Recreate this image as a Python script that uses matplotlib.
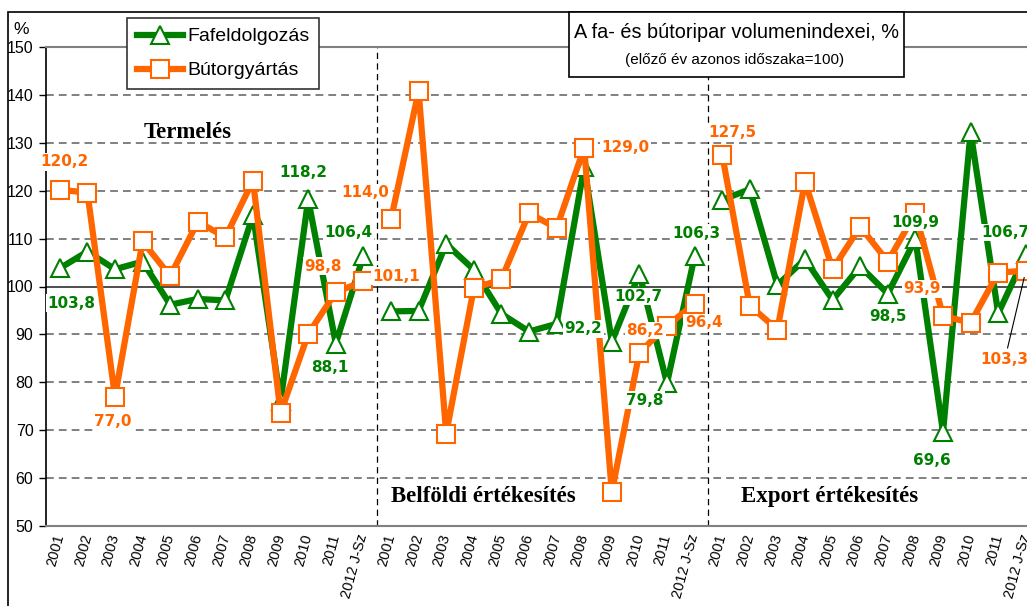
import matplotlib.pyplot as plt
from matplotlib.lines import Line2D
from matplotlib.patches import Rectangle

plt.rcParams['font.family'] = ['Liberation Sans', 'DejaVu Sans']

YEARS = ['2001', '2002', '2003', '2004', '2005', '2006', '2007', '2008',
         '2009', '2010', '2011', '2012 J-Sz']
PANELS = ['Termelés', 'Belföldi értékesítés', 'Export értékesítés']
SERIES = ['Fafeldolgozás', 'Bútorgyártás']

# Fafeldolgozás (green) per panel
FA_TERMELES = [103.8, 107.3, 103.6, 105.2, 96.2, 97.4, 97.1, 114.9, 76.0, 118.2, 88.1, 106.4]
FA_BELFOLD = [94.8, 94.9, 108.9, 103.5, 94.3, 90.6, 92.2, 125.0, 88.5, 102.7, 79.8, 106.3]
FA_EXPORT = [118.1, 120.3, 100.3, 105.7, 97.2, 104.2, 98.5, 109.9, 69.6, 132.3, 94.4, 106.7]

# Bútorgyártás (orange) per panel
BUTOR_TERMELES = [120.2, 119.6, 77.0, 109.4, 102.2, 113.5, 110.3, 122.1, 73.6, 90.1, 98.8, 101.1]
BUTOR_BELFOLD = [114.0, 140.8, 69.3, 99.6, 101.5, 115.3, 112.2, 129.0, 57.1, 86.2, 91.8, 96.4]
BUTOR_EXPORT = [127.5, 96.0, 91.0, 121.9, 103.6, 112.5, 105.2, 115.3, 93.9, 92.4, 102.9, 103.3]

GREEN = '#008000'
ORANGE = '#FF6600'

# which points carry a value label: (series, panel, year index, dx px, dy px)
LABELS = [
    (1, 0, 0, 5, 28), (0, 0, 0, 12, -35), (1, 0, 2, -2, -25),
    (0, 0, 9, -5, 27), (1, 0, 10, -13, 26), (0, 0, 10, -6, -24),
    (0, 0, 11, -15, 23), (1, 0, 11, 33, 5),
    (1, 1, 0, -26, 27), (1, 1, 7, 41, 0), (0, 1, 6, 27, -5),
    (0, 1, 9, -1, -23), (1, 1, 9, 6, 22), (0, 1, 10, -22, -17),
    (1, 1, 11, 9, -19), (0, 1, 11, 2, 23),
    (1, 2, 0, 10, 22), (0, 2, 7, 0, 17), (1, 2, 8, -21, 27),
    (0, 2, 6, 0, -23), (0, 2, 8, -11, -28), (0, 2, 11, -20, 22),
]

W, H = 1027, 606


def main():
    fig = plt.figure(figsize=(W / 100, H / 100), dpi=100)
    ax = fig.add_axes([46 / W, 80 / H, 993.6 / W, 479 / H])

    data = [
        [FA_TERMELES, FA_BELFOLD, FA_EXPORT],
        [BUTOR_TERMELES, BUTOR_BELFOLD, BUTOR_EXPORT],
    ]
    styles = [
        dict(color=GREEN, marker='^', mec=GREEN),
        dict(color=ORANGE, marker='s', mec=ORANGE),
    ]

    for s, (panels, st) in enumerate(zip(data, styles)):
        for p, values in enumerate(panels):
            xs = [p * 12 + i for i in range(len(values))]
            ax.plot(xs, values, lw=4.5, ms=13.5, mfc='white', mew=1.5,
                    zorder=3 + s, **st)

    # grid
    for y in range(60, 150, 10):
        if y == 100:
            ax.axhline(y, color='#404040', lw=1.3, zorder=1)
        else:
            ax.axhline(y, color='#808080', lw=1.4, ls=(0, (4, 2.6)), zorder=1)
    for xv in (11.5, 23.5):
        ax.axvline(xv, color='black', lw=0.9, ls=(0, (5, 3.5)), zorder=1)

    ax.set_xlim(-0.5, 35.5)
    ax.set_ylim(50, 150)
    ax.set_yticks(range(50, 151, 10))
    ax.set_xticks(range(36))
    ax.set_xticklabels(YEARS * 3, rotation=75, ha='right', va='center',
                       rotation_mode='anchor', fontsize=10.5)
    ax.tick_params(axis='x', length=0, pad=6)
    ax.tick_params(axis='y', length=5, width=1, pad=4, labelsize=11.5)
    ax.spines['right'].set_visible(False)
    ax.spines['top'].set_color('#808080')
    ax.spines['top'].set_linewidth(1.5)
    ax.spines['bottom'].set_color('#808080')
    ax.spines['bottom'].set_linewidth(1.5)
    ax.spines['left'].set_linewidth(1.2)

    # value labels
    for s, p, i, dx, dy in LABELS:
        v = data[s][p][i]
        ax.annotate(f'{v:.1f}'.replace('.', ','), xy=(p * 12 + i, v),
                    xytext=(dx, dy), textcoords='offset pixels',
                    ha='center', va='center', fontsize=11,
                    fontweight='bold', family='DejaVu Sans',
                    color=[GREEN, ORANGE][s], zorder=6,
                    bbox=dict(fc='white', ec='none', pad=1))
    v = BUTOR_EXPORT[11]
    ax.annotate(f'{v:.1f}'.replace('.', ','), xy=(35, v), xytext=(-21, -89),
                textcoords='offset pixels', ha='center', va='center',
                fontsize=11, fontweight='bold', family='DejaVu Sans',
                color=ORANGE, zorder=6,
                arrowprops=dict(arrowstyle='-', color='black', lw=0.8,
                                shrinkA=1, shrinkB=5))

    # panel titles
    for (xp, yp), name in zip([(4.64, 132.1), (15.35, 56.1), (27.9, 56.1)], PANELS):
        ax.text(xp, yp, name, ha='center', va='center', fontsize=16.5,
                fontweight='bold', family='Liberation Serif', zorder=2)

    # frame, title box, legend
    fig.add_artist(Rectangle((8 / W, -0.2), 2, 1.2 - 12 / H,
                             transform=fig.transFigure, fill=False,
                             ec='black', lw=1.2, zorder=1))
    fig.add_artist(Rectangle((569 / W, 1 - 77 / H), 335 / W, 65 / H,
                             transform=fig.transFigure, fc='white',
                             ec='black', lw=1.2, zorder=2))
    fig.text(736 / W, 1 - 33 / H, 'A fa- és bútoripar volumenindexei, %',
             ha='center', va='center', fontsize=14.3, zorder=3)
    fig.text(735 / W, 1 - 60 / H, '(előző év azonos időszaka=100)',
             ha='center', va='center', fontsize=11, zorder=3)
    fig.text(21 / W, 1 - 30 / H, '%', ha='center', va='center', fontsize=12.5)

    handles = [
        Line2D([], [], lw=4.5, ms=13.5, mfc='white', mew=1.5, **styles[0]),
        Line2D([], [], lw=4.5, ms=13.5, mfc='white', mew=1.5, **styles[1]),
    ]
    leg = fig.legend(handles, SERIES, loc='upper left',
                     bbox_to_anchor=(127 / W, 1 - 18 / H), frameon=True,
                     fancybox=False, edgecolor='#333333', framealpha=1,
                     fontsize=14, handlelength=2.4, handletextpad=0.2,
                     labelspacing=0.85, borderpad=0.5, borderaxespad=0)
    leg.get_frame().set_linewidth(1.2)

    fig.savefig('out.png', dpi=100)


main()
